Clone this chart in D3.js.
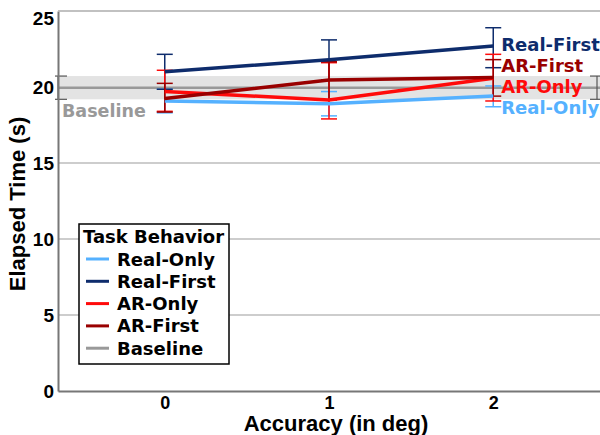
<!DOCTYPE html>
<html>
<head>
<meta charset="utf-8">
<script src="https://cdn.jsdelivr.net/npm/d3@7"></script>
<style>
  body { margin: 0; background: #fff; }
  text { font-family: "DejaVu Sans", Verdana, sans-serif; font-weight: bold; }
  .arial { font-family: "Liberation Sans", Arial, sans-serif; }
</style>
</head>
<body>
<svg id="chart" width="600" height="435"></svg>
<script>
// data
let accuracy = [0, 1, 2];
let seriesNames = ["Real-Only", "Real-First", "AR-Only", "AR-First"];
let realOnly = [19.08, 18.9, 19.4];
let realOnlyLo = [18.3, 18.1, 18.7];
let realOnlyHi = [19.85, 19.7, 20.07];
let realFirst = [21.0, 21.8, 22.7];
let realFirstLo = [19.85, 20.46, 21.27];
let realFirstHi = [22.15, 23.1, 23.9];
let arOnly = [19.7, 19.15, 20.57];
let arOnlyLo = [18.4, 17.9, 19.08];
let arOnlyHi = [21.1, 21.6, 22.15];
let arFirst = [19.25, 20.46, 20.63];
let arFirstLo = [18.35, 19.15, 19.4];
let arFirstHi = [20.24, 21.66, 21.8];
let baseline = 19.95;
let baselineLo = 19.19;
let baselineHi = 20.72;
let yTicks = [0, 5, 10, 15, 20, 25];

let colors = {"Real-Only": "#55b1ff", "Real-First": "#0e2c6c", "AR-Only": "#ff0a0a", "AR-First": "#990000", "Baseline": "#999999"};

let series = [
    {name: "Real-Only", v: realOnly, lo: realOnlyLo, hi: realOnlyHi},
    {name: "Real-First", v: realFirst, lo: realFirstLo, hi: realFirstHi},
    {name: "AR-Only", v: arOnly, lo: arOnlyLo, hi: arOnlyHi},
    {name: "AR-First", v: arFirst, lo: arFirstLo, hi: arFirstHi}
];

let svg = d3.select('#chart');
let margin = {top: 11, left: 58, bottom: 44, right: 0};
let width = 600, height = 435;

let x = d3.scaleLinear().domain([-0.65, 2.65]).range([margin.left, width - margin.right]);
let y = d3.scaleLinear().domain([0, 25]).range([height - margin.bottom, margin.top]);

// gridlines
svg.append("g").selectAll("line")
    .data(yTicks.filter(t => t > 0))
    .enter().append("line")
    .attr("x1", margin.left).attr("x2", width)
    .attr("y1", d => y(d)).attr("y2", d => y(d))
    .attr("stroke", "#bdbdbd").attr("stroke-width", 1.5);

// baseline band
svg.append("rect")
    .attr("x", margin.left).attr("width", width - margin.left)
    .attr("y", y(baselineHi)).attr("height", y(baselineLo) - y(baselineHi))
    .attr("fill", "#e3e3e3");
svg.append("line")
    .attr("x1", margin.left).attr("x2", width)
    .attr("y1", y(baseline)).attr("y2", y(baseline))
    .attr("stroke", "#999").attr("stroke-width", 2.5);
// baseline error brackets at both edges
[[x.domain()[0], -3, 9], [x.domain()[1], -10, 0]].forEach(([xv, a, b]) => {
    let g = svg.append("g").attr("stroke", "#555").attr("stroke-width", 1.2);
    [baselineLo, baselineHi].forEach(v => {
        g.append("line").attr("x1", x(xv) + a).attr("x2", x(xv) + b)
            .attr("y1", y(v)).attr("y2", y(v));
    });
    g.append("line").attr("x1", x(xv) + (a < -5 ? -3 : 0)).attr("x2", x(xv) + (a < -5 ? -3 : 0))
        .attr("y1", y(baselineLo)).attr("y2", y(baselineHi));
});
svg.append("text")
    .attr("x", margin.left + 4).attr("y", 117)
    .attr("fill", "#999").style("font-size", "17.5px")
    .text("Baseline");

// axes
let yAxis = d3.axisLeft(y).tickValues(yTicks).tickSize(0).tickPadding(4);
let gy = svg.append("g").attr("transform", "translate(" + margin.left + ",0)").call(yAxis);
gy.select(".domain").attr("stroke", "#777").attr("stroke-width", 2);
gy.selectAll("text").attr("class", "arial").style("font-size", "19px").attr("fill", "#000")
    .attr("dy", d => d === 25 ? "0.72em" : "0.35em");

let xAxis = d3.axisBottom(x).tickValues(accuracy).tickFormat(d3.format("d")).tickSize(0).tickPadding(5);
let gx = svg.append("g").attr("transform", "translate(0," + y(0) + ")").call(xAxis);
gx.select(".domain").attr("stroke", "#777").attr("stroke-width", 2);
gx.selectAll("text").attr("class", "arial").style("font-size", "18px").attr("fill", "#000");

svg.append("line")
    .attr("x1", margin.left).attr("x2", width)
    .attr("y1", y(25)).attr("y2", y(25))
    .attr("stroke", "#bdbdbd").attr("stroke-width", 1.5);

// axis titles
svg.append("text").attr("class", "arial")
    .attr("transform", "translate(" + 336 + " ," + 431 + ")")
    .style("text-anchor", "middle").style("font-size", "22px")
    .text("Accuracy (in deg)");
svg.append("text").attr("class", "arial")
    .attr("transform", "translate(" + 25 + " ," + 204 + "), rotate(-90)")
    .style("text-anchor", "middle").style("font-size", "22px")
    .text("Elapsed Time (s)");

// error bars
series.forEach(s => {
    let g = svg.append("g").attr("stroke", colors[s.name]).attr("stroke-width", 1.5);
    accuracy.forEach((a, i) => {
        g.append("line").attr("x1", x(a)).attr("x2", x(a)).attr("y1", y(s.lo[i])).attr("y2", y(s.hi[i]));
        [s.lo[i], s.hi[i]].forEach(v => {
            g.append("line").attr("x1", x(a) - 8).attr("x2", x(a) + 8).attr("y1", y(v)).attr("y2", y(v));
        });
    });
});

// lines
let line = d3.line().x((d, i) => x(accuracy[i])).y(d => y(d));
series.forEach(s => {
    svg.append("path")
        .datum(s.v)
        .attr("d", line)
        .attr("fill", "none")
        .attr("stroke", colors[s.name])
        .attr("stroke-width", 3.5);
});

// end labels
let labelY = {"Real-First": 51, "AR-First": 72, "AR-Only": 93, "Real-Only": 114};
series.forEach(s => {
    svg.append("text")
        .attr("x", x(2) + 8).attr("y", labelY[s.name])
        .attr("fill", colors[s.name]).style("font-size", "18px")
        .text(s.name);
});

// legend
let legend = svg.append("g");
legend.append("rect")
    .attr("x", 79).attr("y", 224).attr("width", 150).attr("height", 140)
    .attr("fill", "#fff").attr("stroke", "#000").attr("stroke-width", 1.5);
legend.append("text").attr("x", 83).attr("y", 243).style("font-size", "18px").text("Task Behavior");
seriesNames.concat(["Baseline"]).forEach((n, i) => {
    let cy = 259 + i * 22.3;
    legend.append("line").attr("x1", 86).attr("x2", 109).attr("y1", cy).attr("y2", cy)
        .attr("stroke", colors[n]).attr("stroke-width", 3);
    legend.append("text").attr("x", 117).attr("y", cy + 6.5).style("font-size", "18px").text(n);
});
</script>
</body>
</html>
